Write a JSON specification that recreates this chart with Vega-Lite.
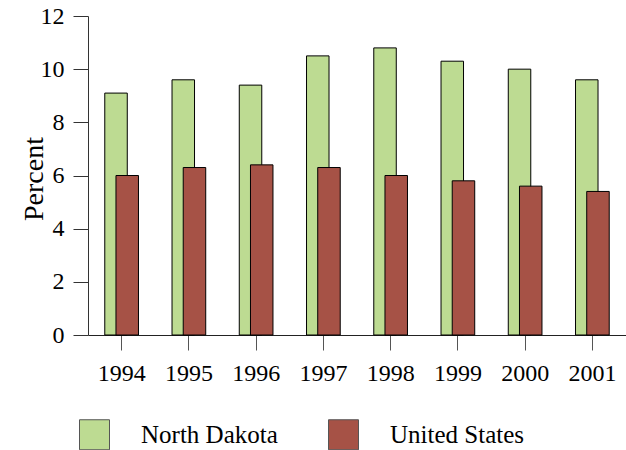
{
  "$schema": "https://vega.github.io/schema/vega-lite/v6.json",
  "width": 538,
  "height": 319,
  "autosize": {"type": "none"},
  "padding": {"left": 88, "top": 16, "right": 0, "bottom": 115},
  "background": "white",
  "config": {
    "view": {"stroke": null},
    "font": "'Times New Roman', 'Liberation Serif', serif",
    "axis": {"labelFont": "'Times New Roman', 'Liberation Serif', serif", "titleFont": "'Times New Roman', 'Liberation Serif', serif"},
    "legend": {"labelFont": "'Times New Roman', 'Liberation Serif', serif"}
  },
  "data": {
    "values": [
      {"year": "1994", "series": "North Dakota", "value": 9.1},
      {"year": "1995", "series": "North Dakota", "value": 9.6},
      {"year": "1996", "series": "North Dakota", "value": 9.4},
      {"year": "1997", "series": "North Dakota", "value": 10.5},
      {"year": "1998", "series": "North Dakota", "value": 10.8},
      {"year": "1999", "series": "North Dakota", "value": 10.3},
      {"year": "2000", "series": "North Dakota", "value": 10.0},
      {"year": "2001", "series": "North Dakota", "value": 9.6},
      {"year": "1994", "series": "United States", "value": 6.0},
      {"year": "1995", "series": "United States", "value": 6.3},
      {"year": "1996", "series": "United States", "value": 6.4},
      {"year": "1997", "series": "United States", "value": 6.3},
      {"year": "1998", "series": "United States", "value": 6.0},
      {"year": "1999", "series": "United States", "value": 5.8},
      {"year": "2000", "series": "United States", "value": 5.6},
      {"year": "2001", "series": "United States", "value": 5.4}
    ]
  },
  "encoding": {
    "x": {
      "field": "year",
      "type": "ordinal",
      "scale": {"paddingInner": 0, "paddingOuter": 0},
      "axis": {
        "title": null,
        "labelAngle": 0,
        "labelFontSize": 24,
        "labelColor": "black",
        "labelPadding": 11,
        "tickSize": 15,
        "tickColor": "#555",
        "domainColor": "#222",
        "grid": false
      }
    },
    "y": {
      "field": "value",
      "type": "quantitative",
      "scale": {"domain": [0, 12], "nice": false},
      "axis": {
        "title": "Percent",
        "titleFontSize": 28,
        "titleFontWeight": "normal",
        "titleColor": "black",
        "titleX": -46,
        "titleY": 162.5,
        "titleBaseline": "alphabetic",
        "values": [0, 2, 4, 6, 8, 10, 12],
        "labelFontSize": 24,
        "labelColor": "black",
        "labelPadding": 9,
        "tickSize": 15,
        "tickColor": "#333",
        "domainColor": "#333",
        "grid": false
      }
    },
    "color": {
      "field": "series",
      "type": "nominal",
      "scale": {"domain": ["North Dakota", "United States"], "range": ["#bddb92", "#a65246"]},
      "legend": {
        "title": null,
        "orient": "none",
        "direction": "horizontal",
        "legendX": -9,
        "legendY": 403,
        "symbolType": "square",
        "symbolSize": 900,
        "symbolStrokeColor": "#555",
        "symbolStrokeWidth": 1,
        "symbolOpacity": 1,
        "labelFontSize": 25,
        "labelColor": "black",
        "labelOffset": 31,
        "columnPadding": 48
      }
    }
  },
  "layer": [
    {
      "transform": [{"filter": "datum.series === 'North Dakota'"}],
      "mark": {"type": "bar", "width": 22.5, "xOffset": -5.6, "stroke": "black", "strokeWidth": 1, "opacity": 1}
    },
    {
      "transform": [{"filter": "datum.series === 'United States'"}],
      "mark": {"type": "bar", "width": 22.5, "xOffset": 5.6, "stroke": "black", "strokeWidth": 1, "opacity": 1}
    }
  ]
}
